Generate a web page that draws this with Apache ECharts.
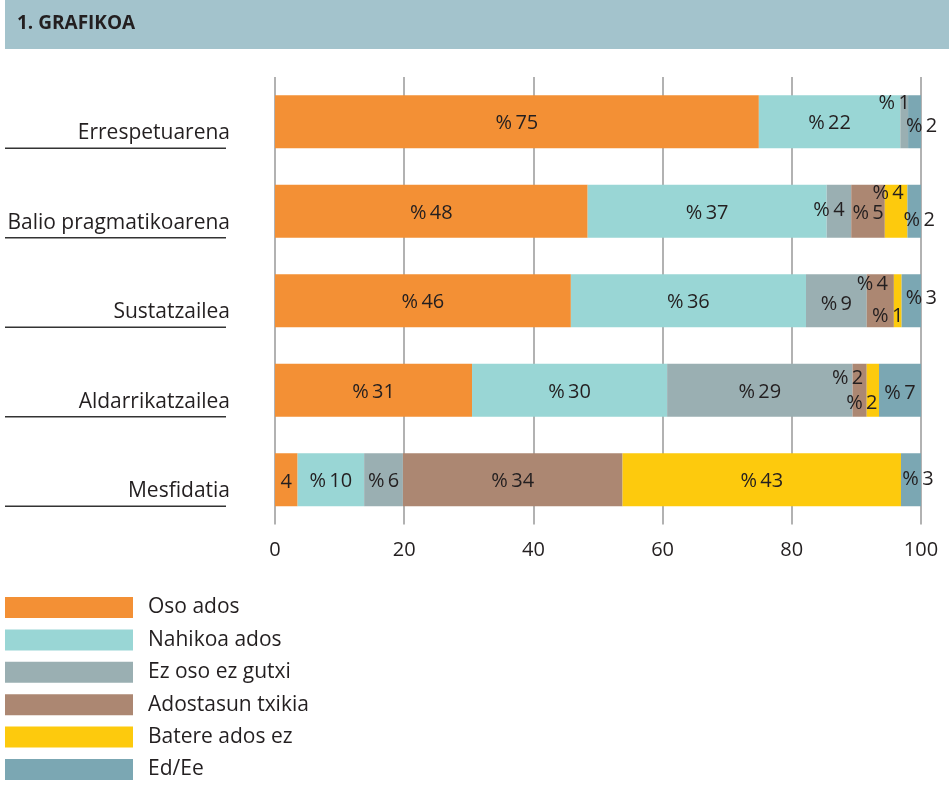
<!DOCTYPE html>
<html>
<head>
<meta charset="utf-8">
<script src="https://cdn.jsdelivr.net/npm/echarts@6/dist/echarts.min.js"></script>
<style>
  html, body { margin: 0; padding: 0; background: #fff; }
  #chart { width: 949px; height: 795px; }
</style>
</head>
<body>
<div id="chart"></div>
<script>
/* -------------------------------------------------------------------------- */
/*                     1. GRAFIKOA - stacked horizontal bars                  */
/* -------------------------------------------------------------------------- */
const categories = [
  'Errespetuarena',
  'Balio pragmatikoarena',
  'Sustatzailea',
  'Aldarrikatzailea',
  'Mesfidatia'
];
const seriesNames = [
  'Oso ados',
  'Nahikoa ados',
  'Ez oso ez gutxi',
  'Adostasun txikia',
  'Batere ados ez',
  'Ed/Ee'
];
const osoAdos = [74.9, 48.4, 45.8, 30.5, 3.5];
const nahikoaAdos = [21.9, 37.0, 36.4, 30.2, 10.3];
const ezOsoEzGutxi = [1.2, 3.8, 9.4, 28.7, 6.0];
const adostasunTxikia = [0, 5.2, 4.2, 2.2, 34.0];
const batereAdosEz = [0, 3.5, 1.2, 1.9, 43.1];
const edEe = [2.0, 2.1, 3.0, 6.5, 3.1];
const xTicks = [0, 20, 40, 60, 80, 100];

const values = [osoAdos, nahikoaAdos, ezOsoEzGutxi, adostasunTxikia, batereAdosEz, edEe];
const colors = ['#f39035', '#99d6d5', '#9aafb2', '#ac8772', '#fdca0d', '#7ba7b3'];
const FONT = 'Open Sans';
const TEXT = '#231f20';
const BAR_W = 53;

// nudges for the small segment labels: [series][row] -> [dx, dy, bare]
const nudge = {
  0: { 4: [0, 3, true] },
  2: { 0: [-10, -18], 1: [-10, -1], 2: [0, 4] },
  3: { 1: [0, 2], 2: [-8, -16], 3: [-12, -12] },
  4: { 1: [-8, -18], 2: [-10, 16], 3: [-11, 13] },
  5: { 0: [7, 5], 1: [5, 9], 2: [10, -2], 3: [0, 3], 4: [7, 0] }
};

const chart = echarts.init(document.getElementById('chart'));

const series = values.map((arr, si) => ({
  name: seriesNames[si],
  type: 'bar',
  stack: 'total',
  barWidth: BAR_W,
  itemStyle: { color: colors[si] },
  data: arr.map((v, ri) => {
    const n = (nudge[si] && nudge[si][ri]) || [0, 2];
    const bare = n[2];
    return {
      value: v,
      label: {
        show: v > 0,
        position: 'inside',
        offset: [n[0], n[1]],
        color: TEXT,
        fontFamily: FONT,
        fontSize: 20,
        formatter: p => (bare ? '' : '%\u2009') + Math.round(p.value)
      }
    };
  })
}));

chart.setOption({
  animation: false,
  color: colors,
  title: {
    text: '1. GRAFIKOA',
    left: 17,
    top: 14,
    padding: 0,
    textStyle: { color: TEXT, fontFamily: FONT, fontSize: 19, fontWeight: 'bold' }
  },
  legend: {
    orient: 'vertical',
    left: 5,
    top: 597,
    padding: 0,
    itemWidth: 128,
    itemHeight: 21,
    itemGap: 11.4,
    icon: 'rect',
    selectedMode: false,
    data: seriesNames,
    textStyle: {
      color: TEXT,
      fontFamily: FONT,
      fontSize: 21,
      padding: [0, 0, 0, 10]
    }
  },
  grid: { left: 275, right: 28, top: 77, height: 447.5 },
  xAxis: {
    type: 'value',
    min: xTicks[0],
    max: xTicks[xTicks.length - 1],
    interval: 20,
    axisLine: { show: false },
    axisTick: { show: false },
    axisLabel: {
      color: TEXT,
      fontFamily: FONT,
      fontSize: 20,
      margin: 16
    },
    splitLine: { show: true, lineStyle: { color: '#999', width: 1.5 } }
  },
  yAxis: {
    type: 'category',
    inverse: true,
    data: categories,
    axisLine: { show: false },
    axisTick: { show: false },
    axisLabel: {
      color: TEXT,
      fontFamily: FONT,
      fontSize: 21,
      margin: 45,
      verticalAlign: 'top',
      padding: [1, 0, 0, 0]
    }
  },
  series
});

// header band + underlines under each category name, placed from the axis scale
const lines = categories.map(c => {
  const y = chart.convertToPixel({ yAxisIndex: 0 }, c) + BAR_W / 2;
  return {
    type: 'line',
    shape: { x1: 5, y1: y, x2: 226, y2: y },
    style: { stroke: '#333', lineWidth: 1.5 }
  };
});

chart.setOption({
  graphic: [
    {
      type: 'rect',
      z: -1,
      shape: { x: 5, y: 0, width: 944, height: 49 },
      style: { fill: '#a3c3cc' }
    },
    ...lines
  ]
});
</script>
</body>
</html>
